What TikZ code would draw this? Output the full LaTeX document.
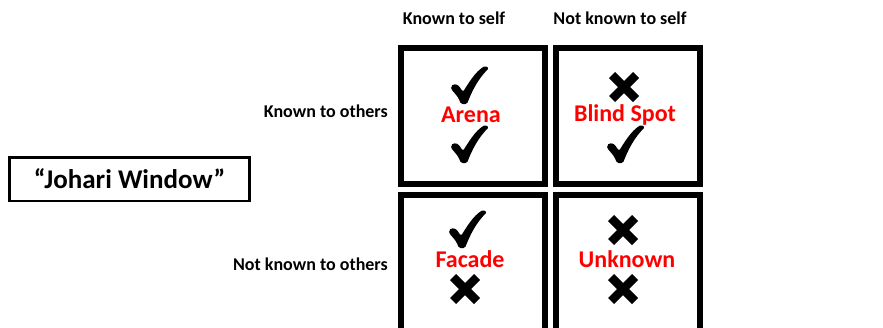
\documentclass[tikz,border=0pt]{standalone}
\usepackage{fontspec}
\setmainfont{Carlito}
\begin{document}
\begin{tikzpicture}[x=1pt,y=-1pt,
  cell/.style={draw,line width=6pt,minimum width=144pt,minimum height=136pt,inner sep=0},
  hdr/.style={font=\bfseries\fontsize{18}{21}\selectfont,inner sep=0},
  lbl/.style={font=\bfseries\fontsize{24}{28}\selectfont,text=red,inner sep=0},
  titlebox/.style={draw,line width=2.5pt,minimum width=240pt,minimum height=43.5pt,inner sep=0,font=\bfseries\fontsize{27}{31}\selectfont},
  checkmark/.pic={\fill[rounded corners=1.5pt] (-19,4) .. controls (-18,0) .. (-14,-1) .. controls (-11,1) .. (-7,7) .. controls (2,-8) and (8,-15) .. (15,-19) -- (19,-17) .. controls (8,-6) and (2,6) .. (-3,19) -- (-9,19) .. controls (-12,12) .. cycle;},
  crossmark/.pic={\draw[line width=8.5pt] (-12,-12) -- (12,12) (-12,12) -- (12,-12);}
]
\useasboundingbox (0,0) rectangle (883,327);
\clip (0,0) rectangle (883,327);
% cells
\node[cell] (arena) at (473,116) {};
\node[cell] (blind) at (628,116) {};
\node[cell] (facade) at (473,263) {};
\node[cell] (unknown) at (628,263) {};
% headers
\node[hdr] (h1) at (454,18) {Known to self};
\node[hdr] (h2) at (620,18) {Not known to self};
\node[hdr,anchor=east] (r1) at (388,111) {Known to others};
\node[hdr,anchor=east] (r2) at (388,264) {Not known to others};
% title
\node[titlebox] (title) at (129.5,179) {“Johari Window”};
% labels
\node[lbl] (la) at (471,115) {Arena};
\node[lbl] (lb) at (625,115) {Blind Spot};
\node[lbl] (lf) at (470,259) {Facade};
\node[lbl] (lu) at (627,259) {Unknown};
% marks
\pic at (470,85) {checkmark};
\pic at (470,144) {checkmark};
\pic at (624,87) {crossmark};
\pic at (626,144) {checkmark};
\pic at (468,229) {checkmark};
\pic at (465,289) {crossmark};
\pic at (623,230) {crossmark};
\pic at (623,289) {crossmark};
\end{tikzpicture}
\end{document}
